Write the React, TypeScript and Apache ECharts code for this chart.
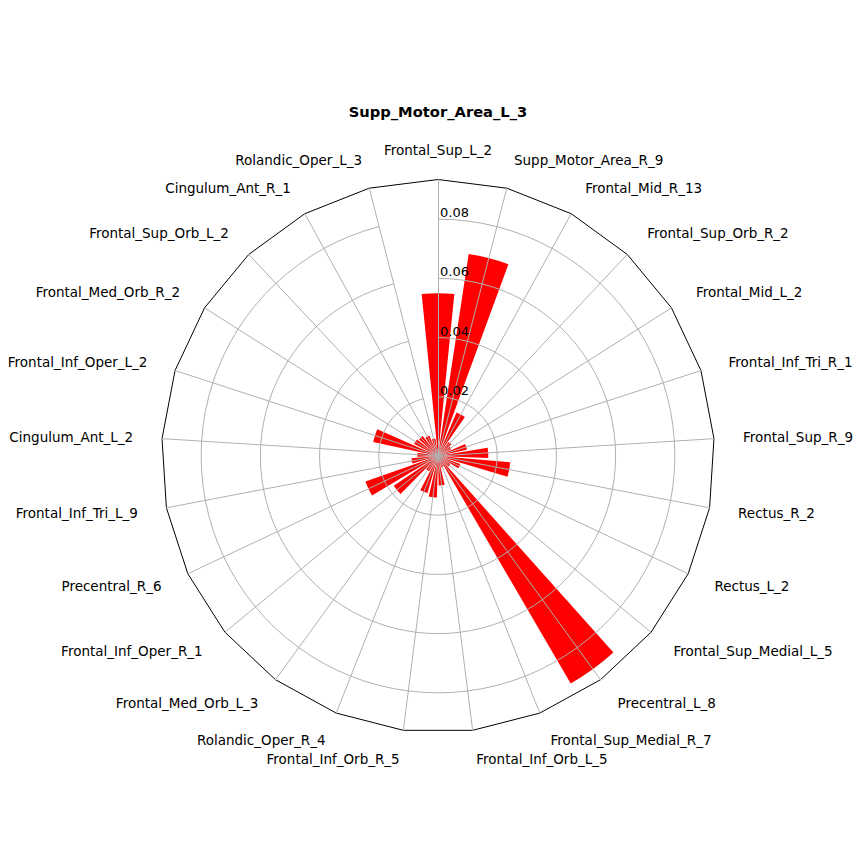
import React, { useEffect, useRef } from "react";
import * as echarts from "echarts";

const TITLE = "Supp_Motor_Area_L_3";

// Categories clockwise from the top
const CATEGORIES = [
  "Frontal_Sup_L_2",
  "Supp_Motor_Area_R_9",
  "Frontal_Mid_R_13",
  "Frontal_Sup_Orb_R_2",
  "Frontal_Mid_L_2",
  "Frontal_Inf_Tri_R_1",
  "Frontal_Sup_R_9",
  "Rectus_R_2",
  "Rectus_L_2",
  "Frontal_Sup_Medial_L_5",
  "Precentral_L_8",
  "Frontal_Sup_Medial_R_7",
  "Frontal_Inf_Orb_L_5",
  "Frontal_Inf_Orb_R_5",
  "Rolandic_Oper_R_4",
  "Frontal_Med_Orb_L_3",
  "Frontal_Inf_Oper_R_1",
  "Precentral_R_6",
  "Frontal_Inf_Tri_L_9",
  "Cingulum_Ant_L_2",
  "Frontal_Inf_Oper_L_2",
  "Frontal_Med_Orb_R_2",
  "Frontal_Sup_Orb_L_2",
  "Cingulum_Ant_R_1",
  "Rolandic_Oper_L_3",
];

const VALUES = [
  0.055, 0.069, 0.016, 0.006, 0.005, 0.010, 0.017, 0.0245, 0.008, 0.005,
  0.089, 0.004, 0.010, 0.014, 0.013, 0.006, 0.018, 0.026, 0.009, 0.007,
  0.0224, 0.009, 0.0085, 0.0075, 0.006,
];

const RADIUS_MAX = 0.0934;
const RADIUS_STEP = 0.02;

const FONT = "DejaVu Sans";
const LABEL_SIZE = 13.5;

export default function App() {
  const ref = useRef<HTMLDivElement>(null);

  useEffect(() => {
    if (!ref.current) return;
    const chart = echarts.init(ref.current, null, { renderer: "svg" });
    const center = [438, 456];
    const radius = 276.5;

    // radar goes counter-clockwise; reorder so names land clockwise
    const indicator = [CATEGORIES[0], ...CATEGORIES.slice(1).reverse()].map(
      (name) => ({ name, max: RADIUS_MAX, min: 0 })
    );

    const option: any = {
      animation: false,
      backgroundColor: "#ffffff",
      title: {
        text: TITLE,
        left: 433,
        top: 99,
        textAlign: "center",
        textStyle: {
          fontFamily: FONT,
          fontSize: 14.7,
          fontWeight: "bold",
          color: "#000",
        },
      },
      polar: { center, radius },
      angleAxis: {
        type: "category",
        data: CATEGORIES,
        boundaryGap: false,
        startAngle: 90,
        clockwise: true,
        axisLine: { show: false },
        axisTick: { show: false },
        axisLabel: { show: false },
        splitLine: { show: false },
        z: 3,
      },
      radiusAxis: {
        type: "value",
        min: 0,
        max: RADIUS_MAX,
        interval: RADIUS_STEP,
        axisLine: { show: false },
        axisTick: { show: false },
        splitLine: {
          show: true,
          lineStyle: {
            color: ["#b0b0b0", "#b0b0b0", "#b0b0b0", "#b0b0b0", "#b0b0b0", "rgba(0,0,0,0)"],
            width: 1,
          },
        },
        axisLabel: {
          formatter: (v: number) =>
            v > 1e-9 && v < RADIUS_MAX - 1e-6 ? v.toFixed(2) : "",
          align: "left",
          verticalAlign: "bottom",
          margin: -2,
          fontSize: 13,
          fontFamily: FONT,
          color: "#000",
        },
        z: 3,
      },
      radar: {
        center,
        radius,
        startAngle: 90,
        shape: "polygon",
        splitNumber: 1,
        indicator,
        nameGap: 29,
        axisName: {
          color: "#000",
          fontSize: LABEL_SIZE,
          fontFamily: FONT,
          formatter: (value: string) =>
            value === CATEGORIES[0] ? `{top|${value}}` : value,
          rich: {
            top: {
              lineHeight: 1,
              fontSize: LABEL_SIZE,
              fontFamily: FONT,
              color: "#000",
            },
          },
        },
        axisLine: { show: true, lineStyle: { color: "#b0b0b0", width: 1 } },
        splitLine: { show: true, lineStyle: { color: "#000", width: 1 } },
        splitArea: { show: false },
        axisTick: { show: false },
        axisLabel: { show: false },
        z: 3,
      },
      series: [
        {
          type: "bar",
          coordinateSystem: "polar",
          data: VALUES,
          barWidth: "80%",
          itemStyle: { color: "#ff0000" },
          z: 2,
        },
      ],
    };
    chart.setOption(option);
    return () => chart.dispose();
  }, []);

  return (
    <div
      ref={ref}
      style={{ position: "fixed", left: 0, top: 0, width: 864, height: 864 }}
    />
  );
}
